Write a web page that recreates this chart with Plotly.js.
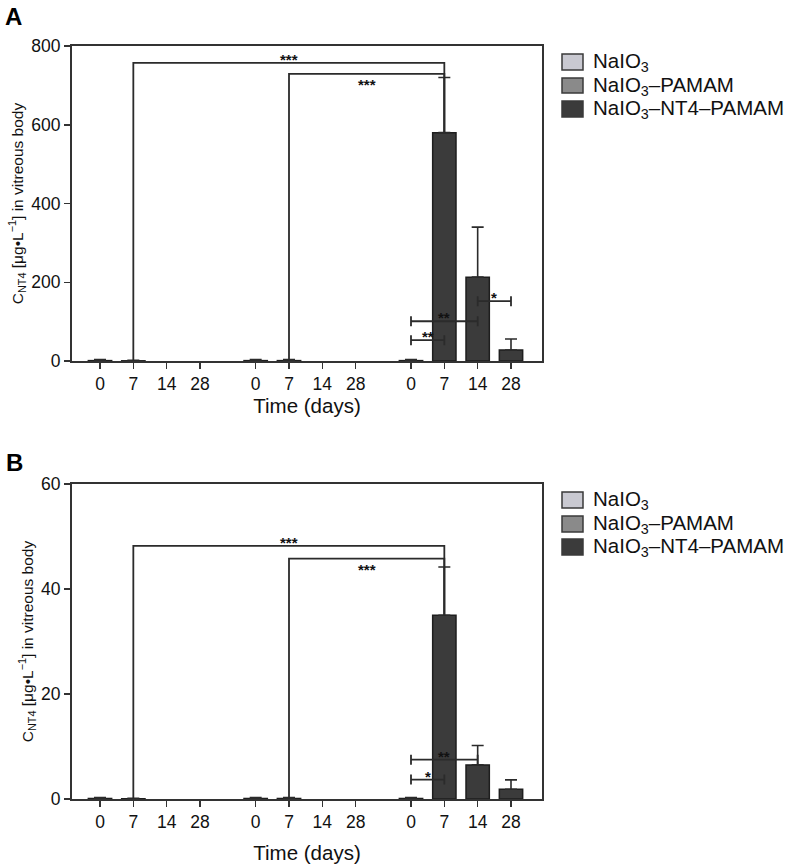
<!DOCTYPE html>
<html><head><meta charset="utf-8">
<script src="https://cdn.plot.ly/plotly-3.0.1.min.js"></script>
<style>html,body{margin:0;padding:0;background:#fff}</style>
</head><body><div id="chart" style="width:792px;height:864px"></div>
<script>
// ---------- data ----------
const days = ['0', '7', '14', '28'];
const seriesNames = ['NaIO<sub>3</sub>', 'NaIO<sub>3</sub>–PAMAM', 'NaIO<sub>3</sub>–NT4–PAMAM'];
const seriesColors = ['#c9c9d1', '#8a8a8a', '#3b3b3b'];

// Panel A (µg/L)
const A_NaIO3      = [1, 0.5, null, null];
const A_NaIO3_err  = [3, 1, null, null];
const A_PAMAM      = [1, 1, null, null];
const A_PAMAM_err  = [3, 3, null, null];
const A_NT4        = [1, 580, 213, 28];
const A_NT4_err    = [3, 140, 127, 28];

// Panel B (µg/L)
const B_NaIO3      = [0.1, 0.05, null, null];
const B_NaIO3_err  = [0.2, 0.1, null, null];
const B_PAMAM      = [0.1, 0.1, null, null];
const B_PAMAM_err  = [0.2, 0.2, null, null];
const B_NT4        = [0.1, 35.0, 6.5, 1.85];
const B_NT4_err    = [0.2, 9.2, 3.7, 1.8];

// significance brackets: [group, dayIndex]
const A_sigTop = [
  {from: [0, 1], to: [2, 1], y: 757, label: '***', pos: 'above'},
  {from: [1, 1], to: [2, 1], y: 729, label: '***', pos: 'below'}
];
const A_sigLow = [
  {from: [2, 0], to: [2, 1], y: 53,  label: '**'},
  {from: [2, 0], to: [2, 2], y: 101, label: '**'},
  {from: [2, 2], to: [2, 3], y: 152, label: '*'}
];
const B_sigTop = [
  {from: [0, 1], to: [2, 1], y: 48.2, label: '***', pos: 'above'},
  {from: [1, 1], to: [2, 1], y: 45.8, label: '***', pos: 'below'}
];
const B_sigLow = [
  {from: [2, 0], to: [2, 1], y: 3.7, label: '*'},
  {from: [2, 0], to: [2, 2], y: 7.5, label: '**'}
];

// ---------- layout helpers ----------
const groupStarts = [0, 4.67, 9.33];
const pos = (g, d) => groupStarts[g] + d;
const W = 792, H = 864;
const px = v => v / W, py = v => (H - v) / H;
const FONT = 'Liberation Sans, Arial, sans-serif';
const INK = '#2b2b2b';

const tickvals = [], ticktext = [];
groupStarts.forEach((g, gi) => days.forEach((d, di) => { tickvals.push(pos(gi, di)); ticktext.push(d); }));

const traces = [];
const annotations = [];
const shapes = [];

function panel(xa, ya, series, sigTop, sigLow) {
  const values = series.map(s => s.v);
  series.forEach((s, gi) => {
    traces.push({
      type: 'bar', xaxis: xa, yaxis: ya,
      x: days.map((d, di) => pos(gi, di)),
      y: s.v, width: 0.7, name: seriesNames[gi], showlegend: false,
      marker: {color: seriesColors[gi], line: {color: '#1e1e1e', width: 1.5}},
      error_y: {type: 'data', array: s.e, arrayminus: s.e.map(() => 0), symmetric: false,
                color: INK, thickness: 1.6, width: 6},
      hoverinfo: 'x+y'
    });
  });
  const val = (g, d) => (values[g][d] || 0);
  sigTop.forEach(b => {
    const x1 = pos(b.from[0], b.from[1]), x2 = pos(b.to[0], b.to[1]);
    traces.push({
      type: 'scatter', mode: 'lines', xaxis: xa, yaxis: ya, showlegend: false, hoverinfo: 'skip',
      x: [x1, x1, x2, x2], y: [val(b.from[0], b.from[1]), b.y, b.y, val(b.to[0], b.to[1])],
      line: {color: INK, width: 1.8}
    });
    annotations.push({
      xref: xa, yref: ya, x: (x1 + x2) / 2, y: b.y, text: '<b>' + b.label + '</b>', showarrow: false,
      yanchor: b.pos === 'above' ? 'bottom' : 'top', yshift: b.pos === 'above' ? -7 : 0,
      font: {family: FONT, size: 15, color: '#111'}
    });
  });
  sigLow.forEach(b => {
    const x1 = pos(b.from[0], b.from[1]), x2 = pos(b.to[0], b.to[1]);
    traces.push({
      type: 'scatter', mode: 'markers', xaxis: xa, yaxis: ya, showlegend: false, hoverinfo: 'skip',
      x: [(x1 + x2) / 2], y: [b.y], marker: {size: 1, opacity: 0},
      error_x: {type: 'data', array: [(x2 - x1) / 2], symmetric: true, color: INK, thickness: 1.8, width: 5}
    });
    annotations.push({
      xref: xa, yref: ya, x: (x1 + x2) / 2, y: b.y, text: '<b>' + b.label + '</b>', showarrow: false,
      yanchor: 'bottom', yshift: -7, font: {family: FONT, size: 15, color: '#111'}
    });
  });
}

panel('x', 'y',
  [{v: A_NaIO3, e: A_NaIO3_err}, {v: A_PAMAM, e: A_PAMAM_err}, {v: A_NT4, e: A_NT4_err}],
  A_sigTop, A_sigLow);
panel('x2', 'y2',
  [{v: B_NaIO3, e: B_NaIO3_err}, {v: B_PAMAM, e: B_PAMAM_err}, {v: B_NT4, e: B_NT4_err}],
  B_sigTop, B_sigLow);

// manual legends
function legend(rows) {
  rows.forEach((r, i) => {
    shapes.push({type: 'rect', xref: 'paper', yref: 'paper',
      x0: px(562), x1: px(583), y0: py(r[1]), y1: py(r[0]),
      fillcolor: seriesColors[i], line: {color: '#3a3a3a', width: 1.5}});
    annotations.push({xref: 'paper', yref: 'paper', x: px(591), y: py((r[0] + r[1]) / 2),
      xanchor: 'left', yanchor: 'middle', showarrow: false, text: seriesNames[i],
      font: {family: FONT, size: 20.5, color: '#111'}});
  });
}
legend([[54, 70], [78, 93], [101, 117]]);
legend([[492, 508], [516, 532], [539, 555]]);

annotations.push({xref: 'paper', yref: 'paper', x: px(3), y: py(16.5), xanchor: 'left', yanchor: 'middle',
  showarrow: false, text: '<b>A</b>', font: {family: FONT, size: 24, color: '#000'}});
annotations.push({xref: 'paper', yref: 'paper', x: px(4), y: py(462), xanchor: 'left', yanchor: 'middle',
  showarrow: false, text: '<b>B</b>', font: {family: FONT, size: 24, color: '#000'}});

const xRange = [-0.84, 13.26];
const axisCommon = {
  showline: true, mirror: true, linewidth: 2, linecolor: '#333',
  ticks: 'outside', ticklen: 6, tickwidth: 1.5, tickcolor: '#333',
  tickfont: {family: FONT, size: 17.5, color: '#111'},
  showgrid: false, zeroline: false, fixedrange: true
};
const yTitle = 'C<sub>NT4</sub> [μg•L<sup>−1</sup>] in vitreous body';

const layout = {
  width: W, height: H, margin: {l: 0, r: 0, t: 0, b: 0},
  paper_bgcolor: '#fff', plot_bgcolor: '#fff', barmode: 'overlay', showlegend: false,
  font: {family: FONT, color: '#111'},
  xaxis: Object.assign({}, axisCommon, {domain: [px(72), px(542)], range: xRange, anchor: 'y',
    tickmode: 'array', tickvals: tickvals, ticktext: ticktext,
    title: {text: 'Time (days)', font: {family: FONT, size: 20.5, color: '#111'}, standoff: 4}}),
  yaxis: Object.assign({}, axisCommon, {domain: [py(361), py(46)], range: [0, 800], dtick: 200, anchor: 'x',
    title: {text: yTitle, font: {family: FONT, size: 15.5, color: '#111'}, standoff: 4}}),
  xaxis2: Object.assign({}, axisCommon, {domain: [px(72), px(542)], range: xRange, anchor: 'y2',
    tickmode: 'array', tickvals: tickvals, ticktext: ticktext,
    title: {text: 'Time (days)', font: {family: FONT, size: 20.5, color: '#111'}, standoff: 15}}),
  yaxis2: Object.assign({}, axisCommon, {domain: [py(799), py(484)], range: [0, 60], dtick: 20, anchor: 'x2',
    title: {text: yTitle, font: {family: FONT, size: 15.5, color: '#111'}, standoff: 4}}),
  annotations: annotations, shapes: shapes
};

Plotly.newPlot('chart', traces, layout, {displayModeBar: false, staticPlot: true});
</script></body></html>
